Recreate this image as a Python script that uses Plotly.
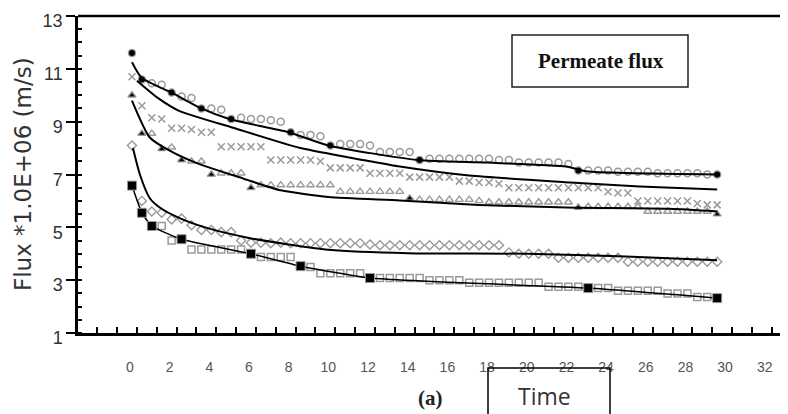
import plotly.graph_objects as go

# ---------------- data ----------------
time = [0.1, 0.6, 1.1, 1.6, 2.1, 2.6, 3.1, 3.6, 4.1, 4.6,
        5.1, 5.6, 6.1, 6.6, 7.1, 7.6, 8.1, 8.6, 9.1, 9.6,
        10.1, 10.6, 11.1, 11.6, 12.1, 12.6, 13.1, 13.6, 14.1, 14.6,
        15.1, 15.6, 16.1, 16.6, 17.1, 17.6, 18.1, 18.6, 19.1, 19.6,
        20.1, 20.6, 21.1, 21.6, 22.1, 22.6, 23.1, 23.6, 24.1, 24.6,
        25.1, 25.6, 26.1, 26.6, 27.1, 27.6, 28.1, 28.6, 29.1, 29.6]

flux_circle = [11.6, 10.6, 10.45, 10.4, 10.1, 9.95, 9.9, 9.5, 9.5, 9.45,
               9.1, 9.15, 9.1, 9.1, 9.05, 9.0, 8.6, 8.5, 8.5, 8.45,
               8.1, 8.15, 8.15, 8.15, 8.1, 7.85, 7.85, 7.85, 7.85, 7.55,
               7.6, 7.6, 7.6, 7.6, 7.6, 7.6, 7.6, 7.55, 7.55, 7.45,
               7.45, 7.45, 7.45, 7.45, 7.4, 7.15, 7.15, 7.15, 7.15, 7.1,
               7.1, 7.1, 7.1, 7.05, 7.05, 7.05, 7.05, 7.05, 7.0, 7.0]
circle_solid_idx = [0, 1, 4, 7, 10, 16, 20, 29, 45, 59]

flux_cross = [10.7, 9.6, 9.15, 9.1, 8.75, 8.75, 8.7, 8.6, 8.6, 8.05,
              8.05, 8.05, 8.05, 8.05, 7.55, 7.55, 7.55, 7.55, 7.55, 7.5,
              7.25, 7.25, 7.25, 7.25, 7.05, 7.05, 7.05, 7.05, 6.9, 6.9,
              6.9, 6.9, 6.9, 6.75, 6.75, 6.7, 6.7, 6.65, 6.5, 6.5,
              6.5, 6.5, 6.5, 6.5, 6.5, 6.5, 6.5, 6.5, 6.35, 6.3,
              6.3, 6.0, 6.0, 6.0, 6.0, 6.0, 6.0, 5.9, 5.85, 5.85]

flux_triangle = [10.0, 8.55, 8.55, 7.97, 8.03, 7.55, 7.5, 7.5, 7.0, 7.05,
                 7.05, 7.05, 6.5, 6.6, 6.6, 6.6, 6.6, 6.6, 6.6, 6.6,
                 6.6, 6.35, 6.35, 6.35, 6.35, 6.35, 6.35, 6.35, 6.1, 6.05,
                 6.05, 6.05, 6.05, 6.05, 6.05, 6.0, 5.95, 5.95, 5.95, 5.95,
                 5.95, 5.95, 5.95, 5.95, 5.95, 5.75, 5.78, 5.78, 5.78, 5.78,
                 5.78, 5.78, 5.6, 5.6, 5.6, 5.6, 5.6, 5.6, 5.6, 5.5]
triangle_solid_idx = [0, 1, 3, 5, 8, 12, 28, 45, 59]

flux_diamond = [8.1, 6.0, 5.6, 5.55, 5.3, 5.33, 5.08, 4.9, 4.9, 4.82,
                4.82, 4.5, 4.42, 4.42, 4.4, 4.42, 4.4, 4.4, 4.4, 4.4,
                4.4, 4.4, 4.4, 4.4, 4.35, 4.32, 4.32, 4.32, 4.32, 4.32,
                4.32, 4.32, 4.32, 4.32, 4.32, 4.32, 4.32, 4.32, 4.05, 4.0,
                4.0, 4.0, 4.0, 3.85, 3.85, 3.85, 3.85, 3.85, 3.85, 3.85,
                3.7, 3.7, 3.7, 3.7, 3.7, 3.7, 3.7, 3.7, 3.7, 3.7]

flux_square = [6.58, 5.55, 5.05, 5.05, 4.5, 4.55, 4.16, 4.16, 4.16, 4.16,
               4.16, 4.16, 4.0, 3.88, 3.88, 3.88, 3.88, 3.53, 3.5, 3.26,
               3.26, 3.26, 3.26, 3.26, 3.08, 3.08, 3.08, 3.08, 3.08, 3.08,
               3.0, 3.0, 3.0, 3.0, 2.9, 2.9, 2.9, 2.9, 2.9, 2.9,
               2.9, 2.9, 2.75, 2.75, 2.75, 2.75, 2.7, 2.7, 2.7, 2.6,
               2.6, 2.6, 2.6, 2.6, 2.5, 2.5, 2.5, 2.36, 2.36, 2.32]
square_solid_idx = [0, 1, 2, 5, 12, 17, 24, 46, 59]

# model (fitted) curves
fit1_t = [0.1, 0.6, 2.1, 3.6, 5.0, 8.0, 10.0, 14.5, 18.0, 22.0, 23.0, 29.5]
fit1_v = [11.25, 10.65, 10.1, 9.5, 9.1, 8.6, 8.1, 7.55, 7.45, 7.3, 7.12, 7.0]
fit2_t = [0.35, 1.4, 2.5, 5.2, 8.6, 11.9, 13.6, 17.1, 22.2, 25.7, 29.6]
fit2_v = [10.55, 9.9, 9.4, 8.77, 8.0, 7.53, 7.3, 6.96, 6.7, 6.55, 6.43]
fit3_t = [0.1, 1.0, 2.0, 3.4, 5.7, 7.6, 10.0, 13.6, 17.6, 22.0, 27.2, 29.6]
fit3_v = [9.8, 8.4, 7.9, 7.42, 6.85, 6.4, 6.15, 6.02, 5.85, 5.75, 5.7, 5.6]
fit4_t = [0.15, 0.5, 1.0, 1.5, 2.5, 4.0, 6.0, 8.0, 10.0, 14.0, 20.0, 25.0, 29.6]
fit4_v = [8.0, 7.0, 6.1, 5.75, 5.35, 4.95, 4.6, 4.35, 4.15, 4.02, 4.0, 3.9, 3.75]

x_tick_vals = [0, 2, 4, 6, 8, 10, 12, 14, 16, 18, 20, 22, 24, 26, 28, 30, 32]
y_tick_vals = [1, 3, 5, 7, 9, 11, 13]

# ---------------- layout geometry ----------------
# the page body has an 8px margin, so the figure is drawn 8px in from the window corner
OFF = 8
W, H = 788 - OFF, 414 - OFF
ML, MR, MT, MB = 78 - OFF, 0, 16 - OFF, 81


def px_x(px):
    return (px - OFF - ML) / (W - ML - MR)


def px_y(py):
    return (H - MB - (py - OFF)) / (H - MT - MB)


GRAY = "#9a9a9a"
fig = go.Figure()


def pick(seq, idx):
    return [seq[i] for i in idx]


# open gray markers
fig.add_trace(go.Scatter(x=time, y=flux_circle, mode="markers",
                         marker=dict(symbol="circle-open", size=7, color=GRAY, line=dict(width=1.5))))
fig.add_trace(go.Scatter(x=time, y=flux_cross, mode="markers",
                         marker=dict(symbol="x-thin-open", size=7, color=GRAY, line=dict(width=1.5, color=GRAY))))
fig.add_trace(go.Scatter(x=time, y=flux_triangle, mode="markers",
                         marker=dict(symbol="triangle-up-open", size=7, color=GRAY, line=dict(width=1.4))))
fig.add_trace(go.Scatter(x=time, y=flux_diamond, mode="markers",
                         marker=dict(symbol="diamond-open", size=7, color=GRAY, line=dict(width=1.4))))
fig.add_trace(go.Scatter(x=time, y=flux_square, mode="markers",
                         marker=dict(symbol="square-open", size=7, color=GRAY, line=dict(width=1.5))))

# fitted lines
for ft, fv in [(fit1_t, fit1_v), (fit2_t, fit2_v), (fit3_t, fit3_v), (fit4_t, fit4_v)]:
    fig.add_trace(go.Scatter(x=ft, y=fv, mode="lines",
                             line=dict(color="black", width=2, shape="spline", smoothing=0.6)))
fig.add_trace(go.Scatter(x=pick(time, square_solid_idx), y=pick(flux_square, square_solid_idx), mode="lines",
                         line=dict(color="black", width=1.5, shape="spline", smoothing=0.5)))

# solid black markers
fig.add_trace(go.Scatter(x=pick(time, circle_solid_idx), y=pick(flux_circle, circle_solid_idx), mode="markers",
                         marker=dict(symbol="circle", size=6, color="black")))
fig.add_trace(go.Scatter(x=pick(time, triangle_solid_idx), y=pick(flux_triangle, triangle_solid_idx), mode="markers",
                         marker=dict(symbol="triangle-up", size=5, color="black")))
fig.add_trace(go.Scatter(x=pick(time, square_solid_idx), y=pick(flux_square, square_solid_idx), mode="markers",
                         marker=dict(symbol="square", size=9, color="black", line=dict(color=GRAY, width=1))))

fig.update_layout(
    width=W, height=H,
    margin=dict(l=ML, r=MR, t=MT, b=MB, autoexpand=False),
    paper_bgcolor="white", plot_bgcolor="white",
    showlegend=False,
    font=dict(family="Arial, Liberation Sans, sans-serif", color="#333333"),
    xaxis=dict(
        range=[-2.62, 33.17], showgrid=False, zeroline=False, automargin=False,
        showline=True, linecolor="black", linewidth=2.5,
        tickvals=x_tick_vals, ticktext=[str(v) for v in x_tick_vals],
        ticks="", ticklabelstandoff=19, ticklabeloverflow="allow",
        tickfont=dict(size=14, color="#555555"),
        minor=dict(tick0=0.35, dtick=1, ticks="inside", ticklen=6, tickwidth=2,
                   tickcolor="black", showgrid=False),
    ),
    yaxis=dict(
        range=[1, 13], showgrid=False, zeroline=False, automargin=False,
        showline=True, linecolor="black", linewidth=2.5,
        tickvals=y_tick_vals, ticktext=[str(v) for v in y_tick_vals],
        ticks="outside", ticklen=9, tickwidth=2, tickcolor="black",
        ticklabeloverflow="allow", ticklabelshift=5,
        tickfont=dict(size=18, color="#333333"),
        minor=dict(tick0=1, dtick=0.5, ticks="inside", ticklen=4, tickwidth=2,
                   tickcolor="black", showgrid=False),
    ),
)

# top frame line
fig.add_shape(type="line", xref="paper", yref="paper", x0=0, x1=1, y0=1, y1=1,
              line=dict(color="black", width=2.5))

# Permeate flux box
fig.add_shape(type="rect", xref="paper", yref="paper",
              x0=px_x(512), x1=px_x(688), y0=px_y(87), y1=px_y(35),
              line=dict(color="#222222", width=1.5), fillcolor="white", layer="below")
fig.add_annotation(xref="paper", yref="paper", x=px_x(601), y=px_y(61), showarrow=False,
                   xanchor="center", yanchor="middle",
                   text="<b>Permeate flux</b>",
                   font=dict(family="Liberation Serif, Times New Roman, serif", size=21, color="#111111"))

# y axis title
fig.add_annotation(xref="paper", yref="paper", x=px_x(23), y=px_y(174), showarrow=False,
                   xanchor="center", yanchor="middle",
                   text="Flux *1.0E+06 (m/s)", textangle=-90,
                   font=dict(family="DejaVu Sans, Arial, sans-serif", size=23, color="#333333"))

# (a) label
fig.add_annotation(xref="paper", yref="paper", x=px_x(430), y=px_y(398), showarrow=False,
                   xanchor="center", yanchor="middle",
                   text="<b>(a)</b>",
                   font=dict(family="Liberation Serif, Times New Roman, serif", size=21, color="#222222"))

# Time box
fig.add_shape(type="rect", xref="paper", yref="paper",
              x0=px_x(488), x1=px_x(610), y0=px_y(420), y1=px_y(368),
              line=dict(color="black", width=1.5), fillcolor="rgba(0,0,0,0)")
fig.add_annotation(xref="paper", yref="paper", x=px_x(544), y=px_y(396), showarrow=False,
                   xanchor="center", yanchor="middle",
                   text="Time",
                   font=dict(family="Open Sans, DejaVu Sans, sans-serif", size=23, color="#333333"))

fig.write_html("out.html")
